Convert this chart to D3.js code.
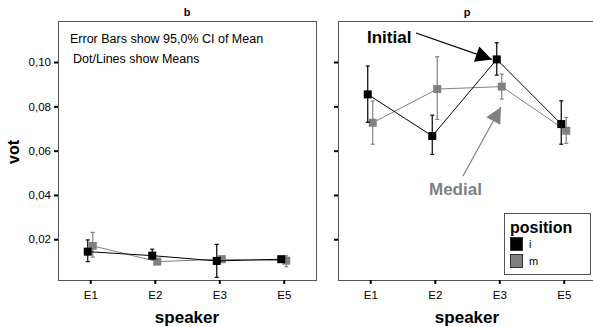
<!DOCTYPE html>
<html>
<head>
<meta charset="utf-8">
<script src="https://cdn.jsdelivr.net/npm/d3@7"></script>
<style>
  body { margin: 0; background: #fff; }
  svg { font-family: "Liberation Sans", Arial, sans-serif; }
</style>
</head>
<body>
<div id="chart"></div>
<script>

// speakers on the x axis
let speakers = ["E1", "E2", "E3", "E5"];
let y_ticks = [0.02, 0.04, 0.06, 0.08, 0.10];

// panel "b" : means and 95% CI
let b_i_mean = [0.0144, 0.0126, 0.0102, 0.0110];
let b_i_lo   = [0.0099, 0.0111, 0.0028, 0.0099];
let b_i_hi   = [0.0197, 0.0155, 0.0177, 0.0119];
let b_m_mean = [0.0170, 0.0099, 0.0110, 0.0103];
let b_m_lo   = [0.0119, 0.0093, 0.0098, 0.0076];
let b_m_hi   = [0.0231, 0.0105, 0.0120, 0.0125];

// panel "p"
let p_i_mean = [0.0854, 0.0666, 0.1012, 0.0720];
let p_i_lo   = [0.0728, 0.0583, 0.0941, 0.0629];
let p_i_hi   = [0.0982, 0.0760, 0.1087, 0.0825];
let p_m_mean = [0.0726, 0.0878, 0.0889, 0.0690];
let p_m_lo   = [0.0629, 0.0741, 0.0833, 0.0633];
let p_m_hi   = [0.0824, 0.1024, 0.0946, 0.0750];

let positions = ["i", "m"];
let position_colors = {"i": "#000000", "m": "#808080"};

function make_series(pos, mean, lo, hi) {
    return speakers.map(function(s, k) {
        return {speaker: s, pos: pos, mean: mean[k], lo: lo[k], hi: hi[k]};
    });
}

let panels = [
    {title: "b", left: 58, series: [make_series("i", b_i_mean, b_i_lo, b_i_hi), make_series("m", b_m_mean, b_m_lo, b_m_hi)]},
    {title: "p", left: 338, series: [make_series("i", p_i_mean, p_i_lo, p_i_hi), make_series("m", p_m_mean, p_m_lo, p_m_hi)]}
];

let chart_width = 593;
let chart_height = 327;
let panel_width = 258;
let panel_top = 21.5;
let panel_bottom = 280;

let svg = d3.select("#chart")
            .append("svg")
            .attr("width", chart_width)
            .attr("height", chart_height);

svg.append("defs").selectAll("marker")
    .data([["arr_black", "#000"], ["arr_gray", "#808080"]])
    .enter()
    .append("marker")
    .attr("id", d => d[0])
    .attr("viewBox", "0 0 10 10")
    .attr("refX", 10)
    .attr("refY", 5)
    .attr("markerUnits", "userSpaceOnUse")
    .attr("markerWidth", 18)
    .attr("markerHeight", 16)
    .attr("orient", "auto")
    .append("path")
    .attr("d", "M0,0 L10,5 L0,10 z")
    .attr("fill", d => d[1]);

let y_scale = d3.scaleLinear()
                .domain([0.0016, 0.1183])
                .range([panel_bottom, panel_top]);

let dodge = {"i": -2.5, "m": 2.5};

panels.forEach(function(panel, pi) {

    let x_scale = d3.scalePoint()
                    .domain(speakers)
                    .range([panel.left, panel.left + panel_width])
                    .padding(0.5);

    let g = svg.append("g");

    // frame
    g.append("rect")
        .attr("x", panel.left)
        .attr("y", panel_top)
        .attr("width", panel_width)
        .attr("height", panel_bottom - panel_top)
        .attr("fill", "none")
        .attr("stroke", "#555")
        .attr("stroke-width", 1)
        .attr("shape-rendering", "crispEdges");

    let x_axis = g.append("g")
        .attr("transform", "translate(0," + panel_bottom + ")")
        .call(d3.axisBottom(x_scale).tickSize(4).tickSizeOuter(0));

    let y_axis = g.append("g")
        .attr("transform", "translate(" + panel.left + ",0)")
        .call(d3.axisLeft(y_scale).tickValues(y_ticks).tickSize(4).tickSizeOuter(0)
              .tickFormat(d => pi === 0 ? d.toFixed(2).replace(".", ",") : ""));

    [x_axis, y_axis].forEach(function(ax) {
        ax.select(".domain").attr("stroke", "#555");
        ax.selectAll(".tick line").attr("stroke", "#000").attr("stroke-width", 2);
        ax.selectAll(".tick text")
            .attr("font-family", "'Liberation Sans', Arial, sans-serif")
            .attr("font-size", 11.5)
            .attr("fill", "#000");
    });
    x_axis.selectAll(".tick text").attr("dy", "1.05em");

    g.append("text")
        .attr("x", panel.left + panel_width / 2)
        .attr("y", 16)
        .attr("text-anchor", "middle")
        .attr("font-weight", "bold")
        .attr("font-size", 11)
        .text(panel.title);

    g.append("text")
        .attr("x", panel.left + panel_width / 2)
        .attr("y", 323)
        .attr("text-anchor", "middle")
        .attr("font-weight", "bold")
        .attr("font-size", 17)
        .text("speaker");

    let line = d3.line()
                 .x(d => x_scale(d.speaker) + dodge[d.pos])
                 .y(d => y_scale(d.mean));

    // gray series drawn first, black on top
    let order = panel.series.slice().reverse();

    order.forEach(function(series) {
        let color = position_colors[series[0].pos];

        g.append("path")
            .datum(series)
            .attr("d", line)
            .attr("fill", "none")
            .attr("stroke", color)
            .attr("stroke-width", 1);

        let bars = g.selectAll(".bar_" + series[0].pos)
            .data(series)
            .enter()
            .append("g");

        bars.append("line")
            .attr("x1", d => x_scale(d.speaker) + dodge[d.pos])
            .attr("x2", d => x_scale(d.speaker) + dodge[d.pos])
            .attr("y1", d => y_scale(d.lo))
            .attr("y2", d => y_scale(d.hi))
            .attr("stroke", color)
            .attr("stroke-width", 1.2);

        ["lo", "hi"].forEach(function(end) {
            bars.append("line")
                .attr("x1", d => x_scale(d.speaker) + dodge[d.pos] - 2)
                .attr("x2", d => x_scale(d.speaker) + dodge[d.pos] + 2)
                .attr("y1", d => y_scale(d[end]))
                .attr("y2", d => y_scale(d[end]))
                .attr("stroke", color)
                .attr("stroke-width", 1.2);
        });

        bars.append("rect")
            .attr("x", d => x_scale(d.speaker) + dodge[d.pos] - 4)
            .attr("y", d => y_scale(d.mean) - 4)
            .attr("width", 8)
            .attr("height", 8)
            .attr("fill", color);
    });

    if (pi === 0) {
        g.append("text")
            .attr("x", 70)
            .attr("y", 43)
            .attr("font-size", 12.5)
            .text("Error Bars show 95,0% CI of Mean");
        g.append("text")
            .attr("x", 73)
            .attr("y", 63)
            .attr("font-size", 12.5)
            .text("Dot/Lines show Means");
    }
    else {
        // annotations
        let xi = x_scale("E3") + dodge["i"];
        g.append("line")
            .attr("x1", 416).attr("y1", 33)
            .attr("x2", xi - 5).attr("y2", y_scale(p_i_mean[2]))
            .attr("stroke", "#000")
            .attr("stroke-width", 1.2)
            .attr("marker-end", "url(#arr_black)");
        g.append("text")
            .attr("x", 367)
            .attr("y", 43)
            .attr("font-size", 17)
            .attr("font-weight", "bold")
            .text("Initial");

        g.append("line")
            .attr("x1", 463).attr("y1", 176)
            .attr("x2", 501).attr("y2", 107)
            .attr("stroke", "#808080")
            .attr("stroke-width", 1.2)
            .attr("marker-end", "url(#arr_gray)");
        g.append("text")
            .attr("x", 429)
            .attr("y", 195)
            .attr("font-size", 17)
            .attr("font-weight", "bold")
            .attr("fill", "#808080")
            .text("Medial");

        // legend
        let lg = g.append("g");
        lg.append("rect")
            .attr("x", 504.5).attr("y", 213.5)
            .attr("width", 86).attr("height", 61)
            .attr("fill", "#fff")
            .attr("stroke", "#555");
        lg.append("text")
            .attr("x", 510).attr("y", 233)
            .attr("font-size", 16)
            .attr("font-weight", "bold")
            .text("position");
        lg.selectAll(".leg_item")
            .data(positions)
            .enter()
            .append("rect")
            .attr("x", 510.5)
            .attr("y", (d, k) => 237.5 + k * 17)
            .attr("width", 12)
            .attr("height", 13)
            .attr("fill", d => position_colors[d])
            .attr("stroke", "#333");
        lg.selectAll(".leg_label")
            .data(positions)
            .enter()
            .append("text")
            .attr("x", 529)
            .attr("y", (d, k) => 248 + k * 17)
            .attr("font-size", 11)
            .text(d => d);
    }
});

svg.append("text")
    .attr("transform", "translate(19,152) rotate(-90)")
    .attr("text-anchor", "middle")
    .attr("font-weight", "bold")
    .attr("font-size", 16)
    .text("vot");

</script>
</body>
</html>
